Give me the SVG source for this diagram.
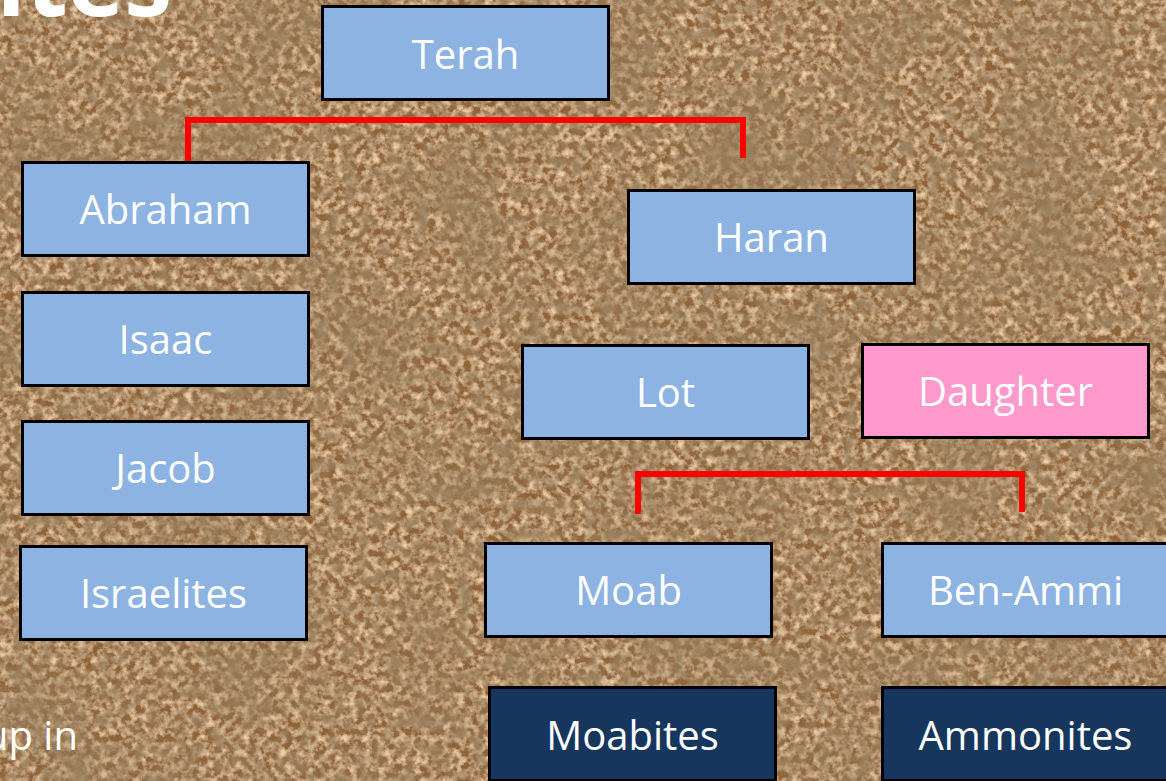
<svg xmlns="http://www.w3.org/2000/svg" width="1166" height="781" viewBox="0 0 1166 781">
  <defs>
    <filter id="sand" x="0" y="0" width="1166" height="781" filterUnits="userSpaceOnUse">
      <feTurbulence type="fractalNoise" baseFrequency="0.14" numOctaves="3" seed="7" result="fine"/>
      <feColorMatrix in="fine" type="matrix" values="0 0 0 0 0.86  0 0 0 0 0.63  0 0 0 0 0.39  2.4 0 0 0 -0.9" result="light"/>
      <feTurbulence type="fractalNoise" baseFrequency="0.07" numOctaves="2" seed="11" result="mid"/>
      <feColorMatrix in="mid" type="matrix" values="0 0 0 0 0.33  0 0 0 0 0.22  0 0 0 0 0.11  2.2 0 0 0 -0.85" result="speck"/>
      <feTurbulence type="fractalNoise" baseFrequency="0.01" numOctaves="2" seed="2" result="coarse"/>
      <feColorMatrix in="coarse" type="matrix" values="0 0 0 0 0.30  0 0 0 0 0.20  0 0 0 0 0.10  1.6 0 0 0 -0.7" result="dark"/>
      <feFlood flood-color="#8f6437" result="base"/>
      <feMerge>
        <feMergeNode in="base"/>
        <feMergeNode in="light"/>
        <feMergeNode in="speck"/>
        <feMergeNode in="dark"/>
      </feMerge>
    </filter>
    <style>
      .box { stroke: #000; stroke-width: 3; }
      .blue { fill: #8db3e2; }
      .pink { fill: #ff99cc; }
      .navy { fill: #17365d; }
      .lbl { font-family: "Open Sans", "Noto Sans", sans-serif; font-size: 40px; fill: #fff; text-anchor: middle; }
      .conn { fill: none; stroke: #ff0000; stroke-width: 6; }
      .plain { font-family: "Open Sans", "Noto Sans", sans-serif; fill: #fff; }
    </style>
  </defs>

  <rect x="0" y="0" width="1166" height="781" filter="url(#sand)"/>

  <text class="plain" x="172" y="16" font-size="96" font-weight="bold" text-anchor="end">ites</text>
  <text class="plain" x="78" y="750" font-size="40" text-anchor="end">up in</text>

  <g id="connectors">
    <polyline class="conn" points="188,162 188,120 743,120 743,158"/>
    <polyline class="conn" points="638,514 638,474 1022,474 1022,512"/>
  </g>

  <g id="terah"><rect class="box blue" x="322.5" y="6.5" width="286" height="93"/><text class="lbl" x="465.5" y="69">Terah</text></g>
  <g id="abraham"><rect class="box blue" x="22.5" y="162.5" width="286" height="93"/><text class="lbl" x="165.5" y="224">Abraham</text></g>
  <g id="isaac"><rect class="box blue" x="22.5" y="292.5" width="286" height="93"/><text class="lbl" x="165.5" y="354">Isaac</text></g>
  <g id="jacob"><rect class="box blue" x="22.5" y="421.5" width="286" height="93"/><text class="lbl" x="165.5" y="483">Jacob</text></g>
  <g id="israelites"><rect class="box blue" x="20.5" y="546.5" width="286" height="93"/><text class="lbl" x="163.5" y="608">Israelites</text></g>
  <g id="haran"><rect class="box blue" x="628.5" y="190.5" width="286" height="93"/><text class="lbl" x="771.5" y="252">Haran</text></g>
  <g id="lot"><rect class="box blue" x="522.5" y="345.5" width="286" height="93"/><text class="lbl" x="665.5" y="407">Lot</text></g>
  <g id="daughter"><rect class="box pink" x="862.5" y="344.5" width="286" height="93"/><text class="lbl" x="1005.5" y="406">Daughter</text></g>
  <g id="moab"><rect class="box blue" x="485.5" y="543.5" width="286" height="93"/><text class="lbl" x="628.5" y="605">Moab</text></g>
  <g id="ben-ammi"><rect class="box blue" x="882.5" y="543.5" width="286" height="93"/><text class="lbl" x="1025.5" y="605">Ben-Ammi</text></g>
  <g id="moabites"><rect class="box navy" x="489.5" y="687.5" width="286" height="93"/><text class="lbl" x="632.5" y="750">Moabites</text></g>
  <g id="ammonites"><rect class="box navy" x="882.5" y="687.5" width="286" height="93"/><text class="lbl" x="1025.5" y="750">Ammonites</text></g>
</svg>
